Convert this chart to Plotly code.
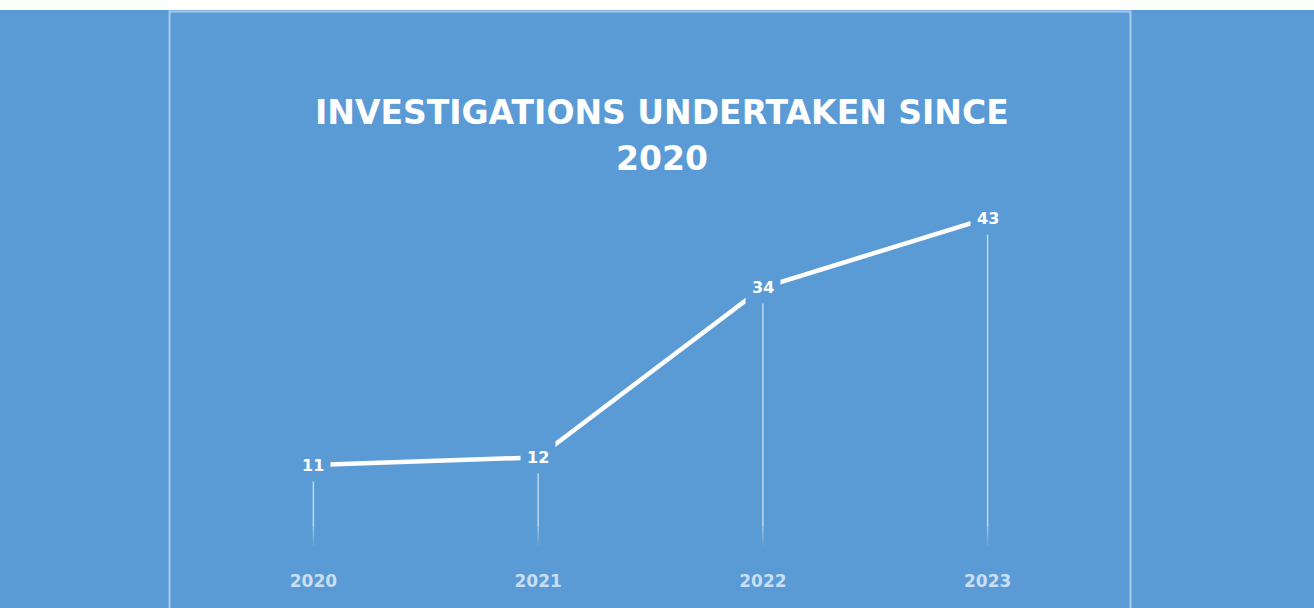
import plotly.graph_objects as go

years = ["2020", "2021", "2022", "2023"]
investigations = [11, 12, 34, 43]
title_line1 = "INVESTIGATIONS UNDERTAKEN SINCE"
title_line2 = "2020"

BG = "#5B9BD5"
BORDER = "#A9CBEB"
FONT = "DejaVu Sans"

xs = list(range(len(years)))

fig = go.Figure()

# drop lines: solid part then fading part
solid_x, solid_y = [], []
for i, v in zip(xs, investigations):
    solid_x += [i, i, None]
    solid_y += [v, 3.0, None]
fig.add_trace(go.Scatter(x=solid_x, y=solid_y, mode="lines",
                         line=dict(color="rgba(255,255,255,0.6)", width=1.5),
                         hoverinfo="skip", showlegend=False))
fade_levels = [3.0, 2.4, 1.8, 1.2, 0.6]
for k in range(len(fade_levels) - 1):
    fx, fy = [], []
    for i in xs:
        fx += [i, i, None]
        fy += [fade_levels[k], fade_levels[k + 1], None]
    alpha = 0.5 * (1 - (k + 1) / len(fade_levels))
    fig.add_trace(go.Scatter(x=fx, y=fy, mode="lines",
                             line=dict(color=f"rgba(255,255,255,{alpha:.2f})", width=1.5),
                             hoverinfo="skip", showlegend=False))

# main line
fig.add_trace(go.Scatter(x=xs, y=investigations, mode="lines",
                         line=dict(color="white", width=4.5),
                         hoverinfo="skip", showlegend=False))

# data labels with background to break the line
for i, v in zip(xs, investigations):
    fig.add_annotation(x=i, y=v, xref="x", yref="y", text=f"<b>{v}</b>",
                       showarrow=False, bgcolor=BG, borderpad=6,
                       font=dict(family=FONT, size=16, color="white"))

# title (two lines)
fig.add_annotation(x=(662 - 200.5) / 900, y=(556 - 113) / 356, xref="paper", yref="paper",
                   text=f"<b>{title_line1}</b>", showarrow=False,
                   font=dict(family=FONT, size=33, color="white"),
                   xanchor="center", yanchor="middle")
fig.add_annotation(x=(662 - 200.5) / 900, y=(556 - 158) / 356, xref="paper", yref="paper",
                   text=f"<b>{title_line2}</b>", showarrow=False,
                   font=dict(family=FONT, size=33, color="white"),
                   xanchor="center", yanchor="middle")

shapes = [
    # white strip at top
    dict(type="rect", xref="paper", yref="paper", x0=-1, x1=2,
         y0=(556 - 10) / 356, y1=2, fillcolor="white", line=dict(width=0), layer="below"),
    # panel border
    dict(type="rect", xref="paper", yref="paper",
         x0=(169 - 200.5) / 900, x1=(1131 - 200.5) / 900,
         y0=(556 - 640) / 356, y1=(556 - 11.5) / 356,
         fillcolor="rgba(0,0,0,0)", line=dict(color=BORDER, width=2), layer="below"),
]

fig.update_layout(
    width=1314, height=608,
    margin=dict(l=200.5, r=1314 - 1100.5, t=200, b=52),
    paper_bgcolor=BG, plot_bgcolor="rgba(0,0,0,0)",
    shapes=shapes,
    showlegend=False,
    xaxis=dict(range=[-0.5, 3.5], tickvals=xs, ticktext=[f"<b>{y}</b>" for y in years],
               showgrid=False, zeroline=False, showline=False,
               ticks="", ticklabelstandoff=13,
               tickfont=dict(family=FONT, size=17, color="#C8DEF3")),
    yaxis=dict(range=[-0.78, 45.34], visible=False, showgrid=False, zeroline=False),
)

fig.write_html("out.html")
